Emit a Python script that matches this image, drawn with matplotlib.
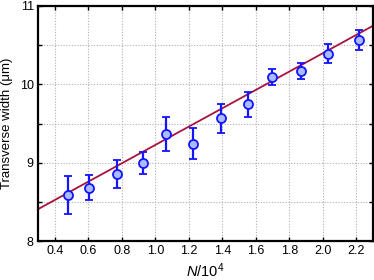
import numpy as np
import matplotlib
matplotlib.use('Agg')
import matplotlib.pyplot as plt

plt.rcParams['font.family'] = ['Liberation Sans', 'DejaVu Sans']
plt.rcParams['mathtext.fontset'] = 'custom'
plt.rcParams['mathtext.rm'] = 'Liberation Sans'
plt.rcParams['mathtext.it'] = 'Liberation Sans:italic'

# measured points
n_vals = [0.477, 0.606, 0.773, 0.925, 1.062, 1.227, 1.393, 1.556, 1.699, 1.870, 2.033, 2.215]
widths = [8.586, 8.679, 8.859, 9.000, 9.368, 9.244, 9.564, 9.744, 10.090, 10.171, 10.389, 10.568]
errors = [0.24, 0.16, 0.18, 0.14, 0.22, 0.20, 0.18, 0.16, 0.10, 0.10, 0.12, 0.13]

# linear fit line
fit_x = [0.3, 2.3]
fit_y = [8.406, 10.748]

fig = plt.figure(figsize=(3.74, 2.8), dpi=100)
ax = fig.add_axes([38/374, 1 - 241/280, 335/374, 235/280])

ax.plot(fit_x, fit_y, color='#a8123e', lw=1.3, zorder=2)
ax.errorbar(n_vals, widths, yerr=errors, fmt='o', color='#1414ff', ecolor='#1414ff',
            mfc='#a8bcff', mec='#1414ff', ms=6.5, mew=1.3, elinewidth=1.6,
            capsize=3, capthick=1.6, zorder=3)

ax.set_xlim(0.3, 2.3)
ax.set_ylim(8, 11)
ax.set_xticks(np.arange(0.4, 2.21, 0.2))
ax.set_xticklabels(['%.1f' % v for v in np.arange(0.4, 2.21, 0.2)])
ax.set_yticks(np.arange(8, 11.01, 0.5))
ax.set_yticklabels(['8', '', '9', '', '10', '', '11'])
ax.grid(True, color='#b0b0b0', linestyle=(0, (1, 1.5)), lw=0.8)
ax.tick_params(direction='in', top=True, right=True, length=3, width=1, labelsize=9, pad=3)
for s in ax.spines.values():
    s.set_linewidth(1.6)

ax.set_xlabel(r'$N$/10$^4$', fontsize=10.5, labelpad=3)
ax.set_ylabel('Transverse width (μm)', fontsize=9.5, labelpad=5)

fig.savefig('out.png', dpi=100)
